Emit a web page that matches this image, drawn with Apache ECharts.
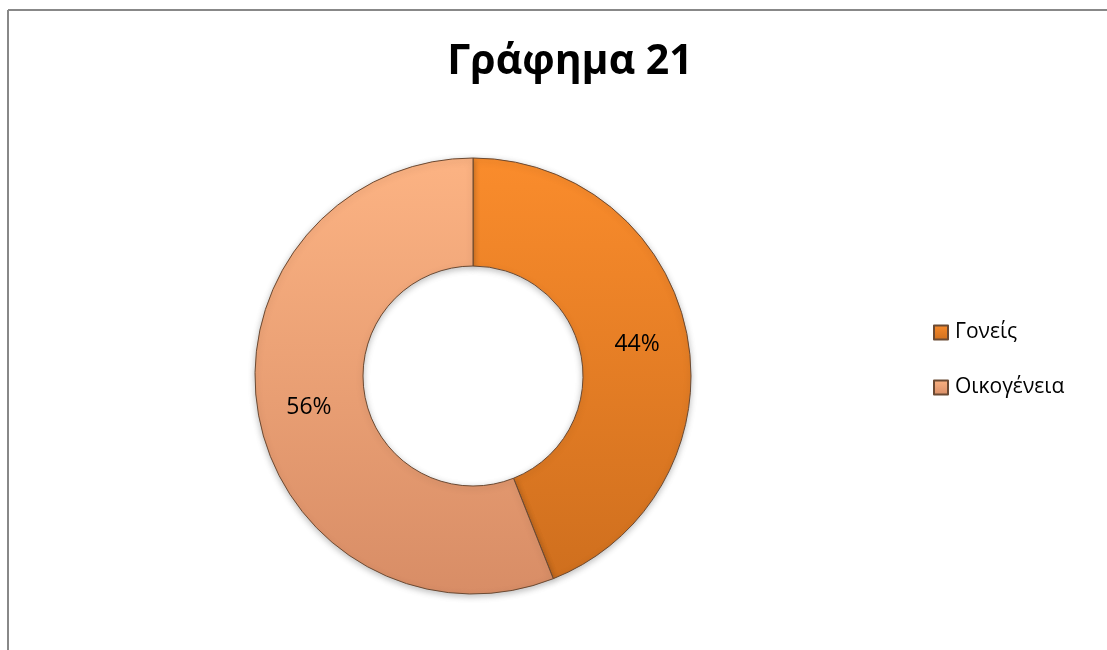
<!DOCTYPE html>
<html>
<head>
<meta charset="utf-8">
<script src="https://cdn.jsdelivr.net/npm/echarts@6/dist/echarts.min.js"></script>
<style>
  html, body { margin: 0; padding: 0; background: #fff; }
  #chart { width: 1107px; height: 650px; }
</style>
</head>
<body>
<div id="chart"></div>
<script>
// δεδομένα
const categories = ['Γονείς', 'Οικογένεια']
const values = [44, 56]
const titleText = 'Γράφημα 21'

// χρώματα τμημάτων (πάνω -> κάτω)
const sliceColors = [
  ['#FA8C2C', '#CF6F1E'],
  ['#FCB383', '#D88D66']
]

const chart = echarts.init(document.getElementById('chart'))

const grad = ([top, bottom]) => new echarts.graphic.LinearGradient(0, 0, 0, 1, [
  { offset: 0, color: top },
  { offset: 1, color: bottom }
])

const option = {
  backgroundColor: '#fff',
  animation: false,
  title: {
    text: titleText,
    left: 565,
    top: 37,
    textAlign: 'center',
    textStyle: {
      fontFamily: 'Open Sans',
      fontWeight: 'bold',
      fontSize: 41,
      color: '#000'
    }
  },
  legend: {
    orient: 'vertical',
    left: 928,
    top: 317,
    itemGap: 34,
    itemWidth: 14,
    itemHeight: 14,
    icon: 'rect',
    textStyle: {
      fontFamily: 'Open Sans',
      fontSize: 21,
      color: '#000',
      padding: [0, 0, 0, 2]
    },
    data: categories
  },
  graphic: [
    {
      type: 'line',
      shape: { x1: 8, y1: 10, x2: 8, y2: 650 },
      style: { stroke: '#888', lineWidth: 2 }
    },
    {
      type: 'line',
      shape: { x1: 8, y1: 10, x2: 1120, y2: 10 },
      style: { stroke: '#888', lineWidth: 2 }
    }
  ],
  series: [
    {
      type: 'pie',
      center: [473, 376],
      radius: [110, 218],
      startAngle: 90,
      clockwise: true,
      label: {
        position: 'inside',
        formatter: '{d}%',
        fontFamily: 'Open Sans',
        fontSize: 23,
        color: '#000'
      },
      labelLine: { show: false },
      itemStyle: {
        borderColor: '#6b4a33',
        borderWidth: 1,
        shadowBlur: 6,
        shadowColor: 'rgba(0,0,0,0.25)',
        shadowOffsetY: 2
      },
      emphasis: { disabled: true },
      data: categories.map((name, i) => ({
        name,
        value: values[i],
        itemStyle: { color: grad(sliceColors[i]) }
      }))
    }
  ]
}

chart.setOption(option)

window.addEventListener('resize', () => {
  chart.resize()
})
</script>
</body>
</html>
